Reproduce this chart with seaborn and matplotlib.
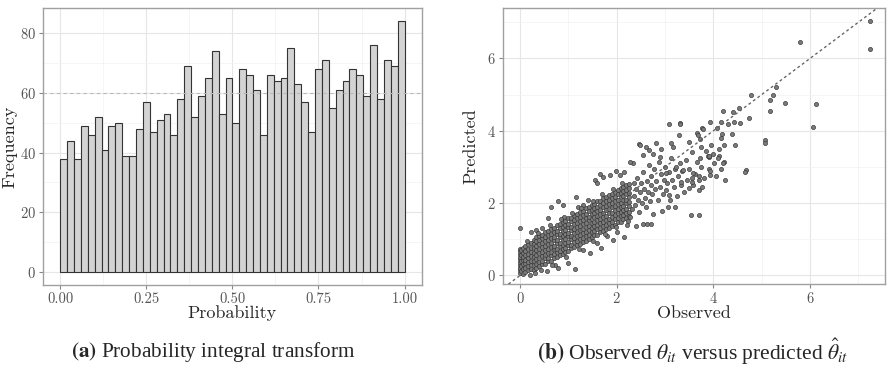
import numpy as np
import pandas as pd
import matplotlib
matplotlib.use("Agg")
import matplotlib.pyplot as plt
from matplotlib.ticker import MultipleLocator
import seaborn as sns

# =========================
# (a) PIT histogram: 50 bins on [0, 1]
# =========================
pit_counts = [38, 44, 38, 49, 46, 52, 41, 49, 50, 39,
              39, 48, 57, 47, 51, 53, 46, 58, 69, 52,
              59, 65, 74, 53, 65, 50, 68, 66, 61, 46,
              66, 64, 65, 75, 63, 57, 47, 68, 71, 55,
              61, 64, 68, 66, 59, 76, 58, 71, 69, 84]
pit_bins = 50
pit_expected = 60

# =========================
# (b) Observed vs predicted
# =========================
# dense band: (observed, [predicted ...])
band_rows = [
    (0.00, [0.07, 0.15, 0.22, 0.30, 0.37, 0.45, 0.52, 0.60, 0.67, 0.74]),
    (0.03, [0.11, 0.26, 0.41, 0.56, 0.70]),
    (0.06, [0.05, 0.18, 0.31, 0.43, 0.50, 0.63, 0.77]),
    (0.10, [0.10, 0.21, 0.34, 0.44, 0.57, 0.67, 0.81]),
    (0.16, [0.14, 0.25, 0.38, 0.49, 0.60, 0.73, 0.86]),
    (0.22, [0.17, 0.30, 0.40, 0.54, 0.65, 0.76, 0.91]),
    (0.28, [0.15, 0.28, 0.39, 0.52, 0.62, 0.75, 0.88, 0.98]),
    (0.34, [0.22, 0.32, 0.46, 0.57, 0.71, 0.81, 0.95, 1.05]),
    (0.40, [0.25, 0.38, 0.49, 0.62, 0.73, 0.87, 0.97, 1.10]),
    (0.46, [0.31, 0.41, 0.55, 0.65, 0.79, 0.89, 1.03, 1.13]),
    (0.52, [0.33, 0.47, 0.57, 0.71, 0.82, 0.96, 1.06, 1.20]),
    (0.58, [0.39, 0.49, 0.63, 0.73, 0.88, 0.98, 1.12, 1.22]),
    (0.64, [0.41, 0.56, 0.66, 0.80, 0.90, 1.04, 1.15, 1.29]),
    (0.70, [0.47, 0.58, 0.72, 0.82, 0.97, 1.07, 1.21, 1.32]),
    (0.76, [0.50, 0.64, 0.74, 0.89, 0.99, 1.14, 1.24, 1.39]),
    (0.82, [0.56, 0.67, 0.81, 0.91, 1.06, 1.16, 1.31, 1.42]),
    (0.88, [0.59, 0.73, 0.84, 0.98, 1.09, 1.23, 1.34, 1.48]),
    (0.94, [0.65, 0.76, 0.90, 1.01, 1.15, 1.26, 1.40, 1.51]),
    (1.00, [0.69, 0.83, 0.93, 1.08, 1.18, 1.33, 1.43, 1.58]),
    (1.06, [0.75, 0.85, 1.00, 1.10, 1.25, 1.35, 1.50, 1.60]),
    (1.12, [0.78, 0.92, 1.03, 1.17, 1.28, 1.42, 1.53, 1.67]),
    (1.18, [0.84, 0.95, 1.09, 1.20, 1.34, 1.45, 1.59, 1.70]),
    (1.24, [0.87, 1.01, 1.12, 1.26, 1.37, 1.51, 1.62, 1.76]),
    (1.30, [0.93, 1.04, 1.18, 1.29, 1.43, 1.54, 1.68, 1.79]),
    (1.36, [0.96, 1.10, 1.21, 1.35, 1.46, 1.60, 1.71, 1.86]),
    (1.42, [1.02, 1.13, 1.27, 1.38, 1.52, 1.63, 1.78, 1.89]),
    (1.48, [1.05, 1.19, 1.30, 1.45, 1.55, 1.70, 1.80, 1.95]),
    (1.54, [1.11, 1.22, 1.36, 1.47, 1.62, 1.72, 1.87, 1.98]),
    (1.60, [1.13, 1.28, 1.39, 1.53, 1.64, 1.79, 1.90, 2.05]),
    (1.66, [1.20, 1.31, 1.45, 1.56, 1.71, 1.82, 1.96, 2.07]),
    (1.72, [1.22, 1.37, 1.48, 1.63, 1.73, 1.88, 1.99, 2.14]),
    (1.78, [1.29, 1.40, 1.54, 1.65, 1.80, 1.91, 2.06, 2.16]),
    (1.84, [1.31, 1.46, 1.57, 1.72, 1.83, 1.97, 2.08, 2.23]),
    (1.90, [1.38, 1.49, 1.63, 1.74, 1.89, 2.00, 2.15, 2.26]),
    (1.96, [1.40, 1.55, 1.66, 1.81, 1.92, 2.07, 2.18, 2.32]),
    (2.02, [1.47, 1.58, 1.73, 1.84, 1.98, 2.09, 2.24, 2.35]),
    (2.08, [1.49, 1.64, 1.75, 1.90, 2.01, 2.16, 2.27, 2.42]),
    (2.14, [1.56, 1.67, 1.82, 1.93, 2.08, 2.19, 2.34, 2.44]),
    (2.20, [1.58, 1.73, 1.84, 1.99, 2.10, 2.25, 2.36, 2.51]),
    (2.26, [1.65, 1.76, 1.91, 2.02, 2.17, 2.28, 2.43, 2.53]),
]

# loose points around the band
halo_pts = [
    (0.00, 1.30), (0.23, 1.21), (0.33, 1.25), (0.45, 1.30), (0.57, 1.58),
    (0.65, 1.90), (0.79, 2.06), (0.89, 1.96), (0.90, 1.62), (1.15, 2.17),
    (1.20, 1.90), (1.30, 1.95), (1.40, 2.10), (1.55, 2.64), (1.59, 2.56),
    (1.65, 2.80), (1.72, 2.73), (1.86, 2.77), (1.99, 2.89), (2.06, 2.77),
    (2.16, 2.86), (0.20, 0.02), (0.43, 0.15), (0.55, 0.12), (0.72, 0.28),
    (0.78, 0.22), (1.00, 0.35), (1.13, 0.19), (1.30, 0.70), (1.44, 0.61),
    (1.60, 0.90), (1.68, 0.75), (1.80, 1.10), (1.92, 0.98), (2.00, 1.20),
    (2.16, 1.07), (2.22, 1.40), (2.27, 1.62), (2.39, 1.36), (2.54, 1.42),
    (2.62, 1.42), (2.71, 1.42),
    (0.14, 0.95), (0.38, 1.18), (0.62, 1.40), (0.85, 1.55), (1.08, 1.72),
    (1.27, 1.86), (1.50, 2.05), (1.70, 2.24), (1.93, 2.40), (2.12, 2.57),
    (0.30, 0.06), (0.66, 0.30), (0.95, 0.52), (1.22, 0.72), (1.52, 0.94),
    (1.75, 1.15), (1.98, 1.33), (2.24, 1.50),
]

# moderately dense region beyond the band
mid_pts = [
    (2.32, 1.85), (2.35, 2.20), (2.36, 2.55), (2.38, 1.95), (2.40, 2.40),
    (2.42, 2.70), (2.44, 2.10), (2.46, 1.75), (2.48, 2.30), (2.50, 2.55),
    (2.52, 2.00), (2.55, 2.85), (2.56, 2.40), (2.58, 2.15), (2.60, 1.90),
    (2.62, 2.60), (2.64, 2.30), (2.66, 3.05), (2.68, 2.05), (2.70, 2.50),
    (2.72, 2.75), (2.74, 2.25), (2.76, 1.70), (2.78, 2.95), (2.80, 2.40),
    (2.82, 2.60), (2.85, 2.10), (2.88, 3.15), (2.90, 2.45), (2.92, 2.80),
    (2.95, 2.25), (2.98, 2.65), (3.00, 3.00), (3.02, 2.35), (3.05, 2.55),
    (3.08, 2.85), (3.10, 2.10), (3.12, 3.25), (3.15, 2.65), (3.18, 2.45),
    (3.20, 2.95), (3.24, 2.20), (3.26, 2.75), (3.30, 3.10), (3.33, 2.50),
    (3.36, 2.90), (3.40, 2.30), (3.44, 3.20), (3.46, 2.65), (3.50, 2.95),
    (3.55, 3.40), (3.58, 2.50), (3.62, 2.80), (3.66, 3.15), (3.70, 2.35),
    (3.74, 3.00), (3.80, 2.70), (3.85, 3.45), (3.90, 2.95), (3.96, 3.60),
    (4.00, 3.35), (4.05, 2.75), (4.12, 3.50), (4.15, 2.95),
    (2.34, 3.11), (2.47, 3.63), (2.61, 3.56), (2.54, 3.33), (2.82, 3.65),
    (2.89, 3.28), (2.27, 3.13), (2.49, 3.62), (2.67, 3.47), (2.75, 3.36),
    (2.91, 3.49), (3.13, 3.67), (3.16, 3.56), (3.28, 3.88), (3.49, 3.70),
    (3.66, 3.93), (3.01, 2.82), (3.22, 3.00), (3.37, 2.91), (3.57, 2.82),
    (3.09, 2.22), (3.20, 1.90), (3.06, 1.90), (2.93, 1.79), (3.32, 2.59),
    (3.49, 2.41), (3.53, 1.68), (3.71, 1.68), (3.55, 2.58), (3.55, 2.69),
    (3.70, 2.64), (3.70, 2.75), (3.77, 2.45),
]

# sparse upper tail
tail_pts = [
    (3.09, 4.18), (3.31, 4.22), (3.30, 4.20), (3.68, 3.89), (3.77, 4.07),
    (3.90, 3.28), (4.01, 3.10), (4.21, 3.14), (4.25, 2.64), (3.94, 2.89),
    (3.94, 2.78), (4.11, 3.30), (3.89, 3.31), (4.20, 3.12), (4.67, 2.91),
    (4.66, 2.86), (3.73, 3.26), (3.90, 3.30), (4.09, 3.26), (3.75, 3.56),
    (3.73, 3.76), (4.23, 3.60), (4.44, 3.62), (4.16, 3.79), (4.18, 3.92),
    (4.38, 3.91), (3.78, 4.06), (4.07, 4.07), (3.94, 4.23), (4.16, 4.25),
    (4.30, 4.20), (4.43, 4.25), (4.56, 4.22), (4.20, 4.55), (4.40, 4.51),
    (4.52, 4.62), (4.73, 4.34), (5.06, 3.74), (5.06, 3.67), (4.77, 4.99),
    (5.17, 4.55), (5.18, 4.86), (5.24, 5.00), (5.29, 5.20), (5.49, 4.76),
    (6.13, 4.73), (6.07, 4.10), (5.79, 6.46), (7.25, 7.04), (7.25, 6.25),
]

obs, pred = [], []
for x, ys in band_rows:
    for y in ys:
        obs.append(x)
        pred.append(y)
for x, y in halo_pts + mid_pts + tail_pts:
    obs.append(x)
    pred.append(y)
df_sc = pd.DataFrame({"Observed": obs, "Predicted": pred})

# =========================
# Style
# =========================
sns.set_theme(style="whitegrid")
plt.rcParams["font.family"] = ["cmr10", "DejaVu Serif"]
plt.rcParams["mathtext.fontset"] = "stix"
plt.rcParams["axes.unicode_minus"] = False
plt.rcParams["axes.formatter.use_mathtext"] = True

FRAME = "#a0a0a0"
TICK_TXT = "#555555"


def style_axes(ax):
    for sp in ax.spines.values():
        sp.set_visible(True)
        sp.set_color(FRAME)
        sp.set_linewidth(1.0)
    ax.set_facecolor("white")
    ax.grid(which="major", color="#e6e6e6", linewidth=0.8)
    ax.grid(which="minor", color="#f2f2f2", linewidth=0.5)
    ax.tick_params(which="major", length=3, width=0.8, color="#888888",
                   labelsize=10.5, labelcolor=TICK_TXT, pad=2,
                   bottom=True, left=True)
    ax.tick_params(which="minor", length=0)
    ax.set_axisbelow(True)


fig = plt.figure(figsize=(8.88, 3.70), dpi=100)
ax1 = fig.add_axes([0.0484, 0.230, 0.4266, 0.748])
ax2 = fig.add_axes([0.566, 0.232, 0.4306, 0.746])

# ---- (a)
bin_mid = np.linspace(0.01, 0.99, pit_bins)
sns.histplot(x=bin_mid, weights=pit_counts, bins=pit_bins, binrange=(0, 1),
             color="#d3d3d3", edgecolor="#333333", linewidth=0.8, alpha=1.0,
             ax=ax1)
ax1.axhline(pit_expected, color="#b8b8b8", linestyle=(0, (3, 3)), linewidth=0.8)
ax1.set_xlim(-0.05, 1.05)
ax1.set_ylim(-4.2, 88.2)
ax1.set_xticks([0, 0.25, 0.5, 0.75, 1.0])
ax1.set_xticklabels(["0.00", "0.25", "0.50", "0.75", "1.00"])
ax1.set_yticks([0, 20, 40, 60, 80])
ax1.xaxis.set_minor_locator(MultipleLocator(0.125))
ax1.yaxis.set_minor_locator(MultipleLocator(10))
style_axes(ax1)
ax1.set_xlabel("Probability", fontsize=13, labelpad=0)
ax1.set_ylabel("Frequency", fontsize=13, labelpad=2)

# ---- (b)
sns.scatterplot(data=df_sc, x="Observed", y="Predicted", s=9,
                color="#7a7a7a", edgecolor="#333333", linewidth=0.45,
                ax=ax2, zorder=2)
ax2.axline((0, 0), slope=1, color="#666666", linestyle=(0, (2, 2)),
           linewidth=1.0, zorder=3)
ax2.set_xlim(-0.36, 7.55)
ax2.set_ylim(-0.24, 7.39)
ax2.set_xticks([0, 2, 4, 6])
ax2.set_yticks([0, 2, 4, 6])
ax2.xaxis.set_minor_locator(MultipleLocator(1))
ax2.yaxis.set_minor_locator(MultipleLocator(1))
style_axes(ax2)
ax2.set_xlabel("Observed", fontsize=13, labelpad=0)
ax2.set_ylabel("Predicted", fontsize=13, labelpad=6)

# ---- captions
fig.text(0.240, 0.050, r"$\mathbf{(a)}$ Probability integral transform",
         ha="center", va="center", fontsize=15.3,
         family=["Liberation Serif", "DejaVu Serif"])
fig.text(0.780, 0.050,
         r"$\mathbf{(b)}$ Observed $\theta_{it}$ versus predicted $\hat{\theta}_{it}$",
         ha="center", va="center", fontsize=15.5,
         family=["Liberation Serif", "DejaVu Serif"])

fig.savefig("out.png", dpi=100)
